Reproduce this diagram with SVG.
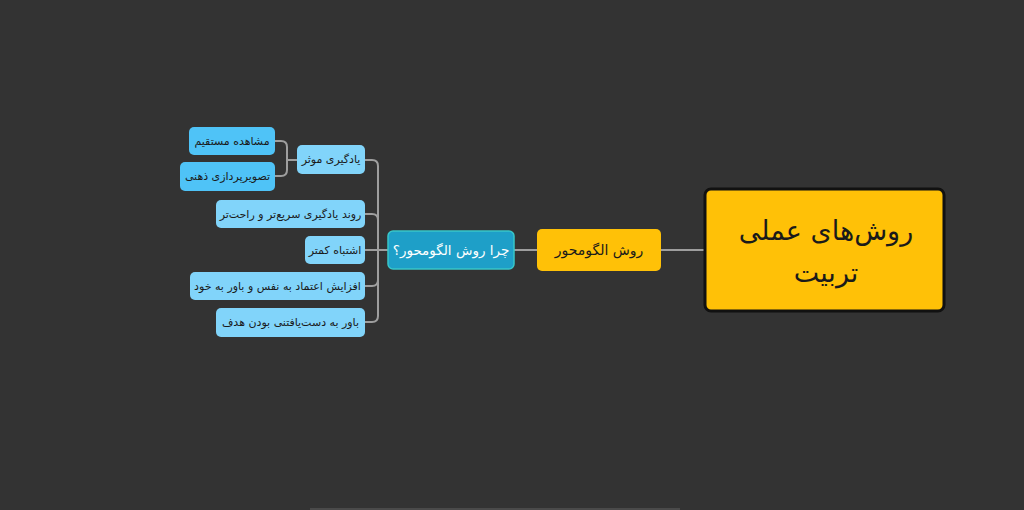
<svg xmlns="http://www.w3.org/2000/svg" width="1024" height="510" viewBox="0 0 1024 510">
<style>
text{font-family:"DejaVu Sans","Noto Sans",sans-serif;text-anchor:middle;dominant-baseline:central}
.leaf rect{fill:#81D4FA}
.leaf text{fill:#1a1a1a;font-size:11px}
.sub rect{fill:#4FC3F7}
.sub text{fill:#1a1a1a;font-size:11px}
.conn path{fill:none;stroke:#9e9e9e;stroke-width:2}
</style>
<rect width="1024" height="510" fill="#333333"/>
<rect x="310" y="508" width="370" height="2" fill="#4a4a4a"/>
<g class="conn">
<path d="M661 250H705"/>
<path d="M514 250H537"/>
<path d="M388 250H378"/>
<path d="M365 160H372Q378 160 378 166V316Q378 322 372 322H365"/>
<path d="M365 214H372Q378 214 378 220"/>
<path d="M365 250H378"/>
<path d="M365 286H372Q378 286 378 280"/>
<path d="M297 160H287"/>
<path d="M275 141H281Q287 141 287 147V170Q287 176 281 176H275"/>
</g>
<g id="root">
<rect x="705" y="189" width="239" height="122" rx="6" fill="#FFC107" stroke="#111" stroke-width="3"/>
<text x="826" y="230" font-size="27" fill="#1a1a1a">روش‌های عملی</text>
<text x="826" y="272" font-size="27" fill="#1a1a1a">تربیت</text>
</g>
<g id="n1">
<rect x="537" y="229" width="124" height="42" rx="5" fill="#FFC107"/>
<text x="599" y="250" font-size="14" fill="#1a1a1a">روش الگومحور</text>
</g>
<g id="n2">
<rect x="388" y="231" width="126" height="38" rx="5" fill="#1E9FC8" stroke="#38C6C8" stroke-width="1.5"/>
<text x="451" y="250" font-size="13.5" fill="#ffffff">چرا روش الگومحور؟</text>
</g>
<g id="l1" class="leaf">
<rect x="297" y="145" width="68" height="29" rx="5"/>
<text x="331" y="159.5">یادگیری موثر</text>
</g>
<g id="l2" class="leaf">
<rect x="216" y="200" width="149" height="28" rx="5"/>
<text x="290.5" y="214">روند یادگیری سریع‌تر و راحت‌تر</text>
</g>
<g id="l3" class="leaf">
<rect x="305" y="236" width="60" height="28" rx="5"/>
<text x="335" y="250">اشتباه کمتر</text>
</g>
<g id="l4" class="leaf">
<rect x="190" y="272" width="175" height="28" rx="5"/>
<text x="277.5" y="286">افزایش اعتماد به نفس و باور به خود</text>
</g>
<g id="l5" class="leaf">
<rect x="216" y="308" width="149" height="29" rx="5"/>
<text x="290.5" y="322.5">باور به دست‌یافتنی بودن هدف</text>
</g>
<g id="s1" class="sub">
<rect x="189" y="127" width="86" height="28" rx="5"/>
<text x="232" y="141">مشاهده مستقیم</text>
</g>
<g id="s2" class="sub">
<rect x="180" y="162" width="95" height="29" rx="5"/>
<text x="227.5" y="176.5">تصویرپردازی ذهنی</text>
</g>
</svg>
